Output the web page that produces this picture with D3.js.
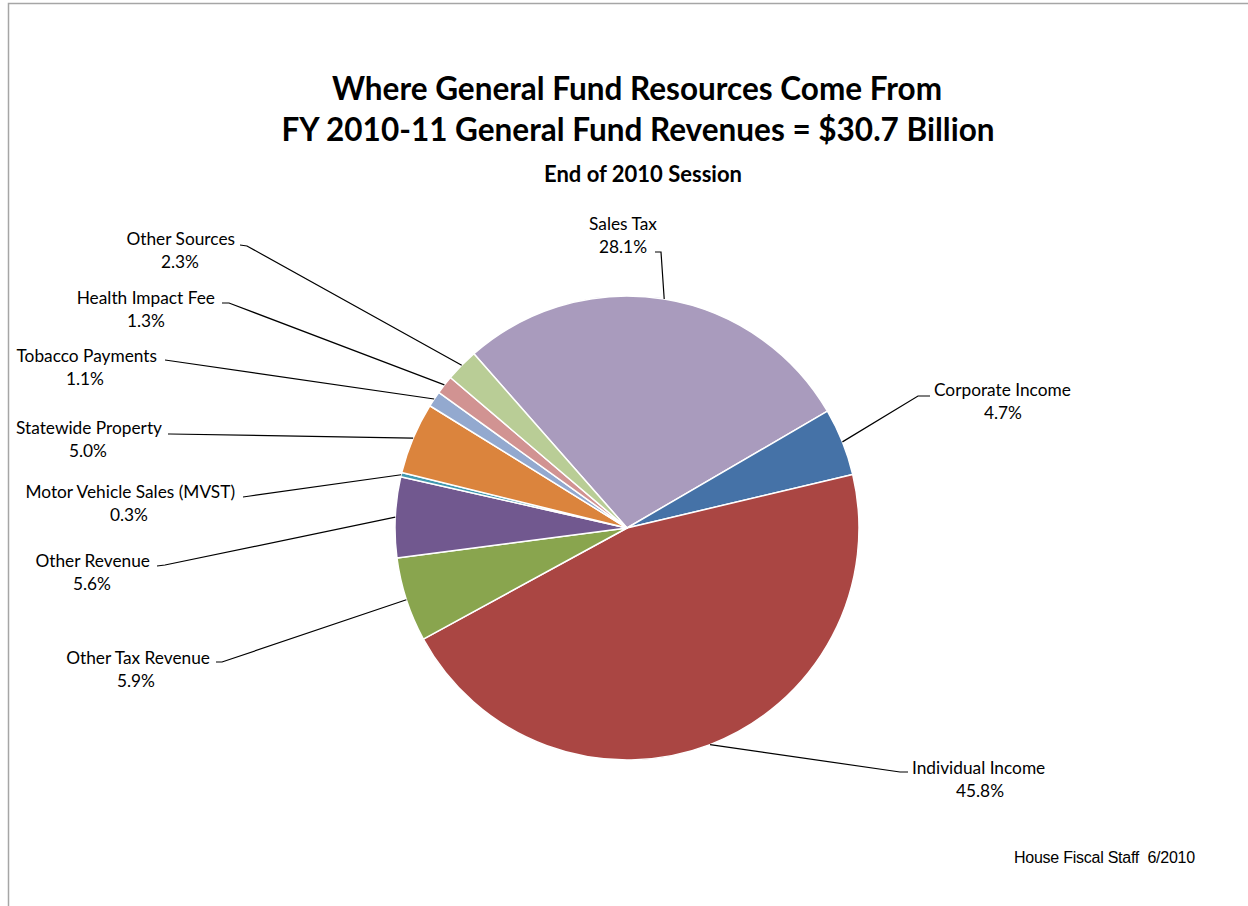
<!DOCTYPE html>
<html>
<head>
<meta charset="utf-8">
<script src="https://cdn.jsdelivr.net/npm/d3@7"></script>
<style>
  html, body { margin: 0; padding: 0; background: #fff; }
  svg { display: block; }
  text { fill: #000; }
</style>
</head>
<body>
<svg id="chart" width="1248" height="906"></svg>
<script>
// Revenue categories, in clockwise order starting from Sales Tax
const categories = [
  "Sales Tax", "Corporate Income", "Individual Income", "Other Tax Revenue",
  "Other Revenue", "Motor Vehicle Sales (MVST)", "Statewide Property",
  "Tobacco Payments", "Health Impact Fee", "Other Sources"
];
// Share of FY 2010-11 General Fund revenues, percent
const shares = [28.1, 4.7, 45.8, 5.9, 5.6, 0.3, 5.0, 1.1, 1.3, 2.3];
const sliceColors = [
  "#A99BBD", "#4572A7", "#AA4643", "#89A54E", "#71588F",
  "#4198AF", "#DB843D", "#93A9CF", "#D19392", "#B9CD96"
];

// Label layout: text anchor point, alignment, and the elbow of each leader line
const labelLayout = [
  { x: 623, y: 230, anchor: "middle", elbow: [[655, 252], [661, 252]] },
  { x: 934, y: 396, anchor: "start",  elbow: [[930, 396], [918, 396]], sub: 1003 },
  { x: 912, y: 774, anchor: "start",  elbow: [[908, 772], [900, 772]], sub: 980 },
  { x: 210, y: 664, anchor: "end",    elbow: [[216, 662], [222, 662]], sub: 136 },
  { x: 150, y: 567, anchor: "end",    elbow: [[157, 566], [165, 565]], sub: 92 },
  { x: 235, y: 498, anchor: "end",    elbow: [[243, 497], [250, 496]], sub: 129 },
  { x: 162, y: 434, anchor: "end",    elbow: [[168, 434], [170, 434]], sub: 88 },
  { x: 157, y: 362, anchor: "end",    elbow: [[165, 360], [172, 361]], sub: 85 },
  { x: 215, y: 304, anchor: "end",    elbow: [[222, 303], [229, 303]], sub: 146 },
  { x: 235, y: 245, anchor: "end",    elbow: [[240, 245], [247, 246]], sub: 180 }
];

const svg = d3.select("#chart");
const font = "Lato, 'Open Sans', sans-serif";

// Chart frame
svg.append("path")
  .attr("d", "M8.5,906 V3.5 H1248")
  .attr("fill", "none")
  .attr("stroke", "#a6a6a6")
  .attr("stroke-width", 1.5);

// Titles
const titles = svg.append("g").attr("font-family", font).attr("font-weight", 700)
  .attr("text-anchor", "middle");
titles.append("text").attr("x", 637).attr("y", 100).attr("font-size", 31.5)
  .text("Where General Fund Resources Come From");
titles.append("text").attr("x", 638).attr("y", 141).attr("font-size", 31.5)
  .text("FY 2010-11 General Fund Revenues = $30.7 Billion");
titles.append("text").attr("x", 643).attr("y", 182).attr("font-size", 22)
  .text("End of 2010 Session");

// Pie
const cx = 627, cy = 528, radius = 232;
const data = categories.map((c, i) => ({ name: c, value: shares[i], color: sliceColors[i], layout: labelLayout[i] }));

const pie = d3.pie()
  .sort(null)
  .value(d => d.value)
  .startAngle(-41.3 * Math.PI / 180)
  .endAngle((360 - 41.3) * Math.PI / 180);

const arcs = pie(data);
const arc = d3.arc().innerRadius(0).outerRadius(radius);
const edgeArc = d3.arc().innerRadius(radius).outerRadius(radius);

const g = svg.append("g").attr("transform", `translate(${cx},${cy})`);
g.selectAll("path.slice")
  .data(arcs)
  .join("path")
  .attr("class", "slice")
  .attr("d", arc)
  .attr("fill", d => d.data.color)
  .attr("stroke", "#fff")
  .attr("stroke-width", 1.5)
  .attr("stroke-linejoin", "round");

// Leader lines from each slice edge to its label
svg.append("g").selectAll("polyline")
  .data(arcs)
  .join("polyline")
  .attr("points", d => {
    const [ex, ey] = edgeArc.centroid(d);
    const pts = d.data.layout.elbow.slice();
    pts.push([cx + ex, cy + ey]);
    return pts.map(p => p.join(",")).join(" ");
  })
  .attr("fill", "none")
  .attr("stroke", "#000")
  .attr("stroke-width", 1.2);

// Labels: category name and share
const fmt = d3.format(".1f");
const labels = svg.append("g").attr("font-family", font).attr("font-size", 17.3);
arcs.forEach(d => {
  const L = d.data.layout;
  labels.append("text")
    .attr("x", L.x).attr("y", L.y)
    .attr("text-anchor", L.anchor)
    .text(d.data.name);
  labels.append("text")
    .attr("x", L.sub !== undefined ? L.sub : L.x)
    .attr("y", L.y + 23)
    .attr("text-anchor", "middle")
    .text(fmt(d.data.value) + "%");
});

// Source note
svg.append("text")
  .attr("x", 1014).attr("y", 863)
  .attr("font-family", "'Liberation Sans', Arial, sans-serif")
  .attr("font-size", 16)
  .attr("letter-spacing", -0.25)
  .style("white-space", "pre")
  .text("House Fiscal Staff  6/2010");
</script>
</body>
</html>
